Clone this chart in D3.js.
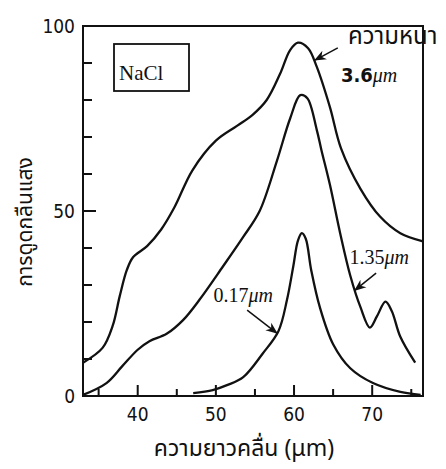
<!DOCTYPE html>
<html>
<head>
<meta charset="utf-8">
<script src="https://cdn.jsdelivr.net/npm/d3@7"></script>
<style>
  body { margin: 0; background: #fff; }
  text { fill: #111; }
</style>
</head>
<body>
<div id="chart-area"></div>
<script>
// data (wavelength in um, absorption %)
var wl36 = [33, 35.5, 36.8, 37.7, 38.6, 39.4, 41.2, 43, 44.7, 47, 50, 52.7, 54.7, 56.5, 58.2, 59.5, 60.5, 61.8, 62.9, 64.6, 66, 68.5, 71, 73.6, 76.5];
var ab36 = [9, 13, 19, 27, 34, 37.5, 40.5, 45, 51, 61, 69, 73, 76, 80, 87, 93.5, 95.5, 94, 89, 78, 67, 56, 48.5, 44, 41.8];

var wl135 = [33, 36, 38, 40, 41.5, 43.7, 45.8, 47.9, 50.9, 53.5, 55.6, 57.8, 59.5, 60.8, 61.7, 62.9, 63.5, 64.6, 65.9, 67.2, 68.5, 69.7, 70.6, 71.7, 72.5, 73.6, 75.5];
var ab135 = [0.3, 3.5, 8, 12.5, 14.8, 16.8, 20.5, 26, 35, 43, 50, 63.5, 75, 81.3, 80.5, 72, 66.5, 57, 44, 32.5, 24, 18.5, 21.5, 25.5, 23, 16, 9];

var wl017 = [47.1, 49.6, 51.5, 53.5, 56, 58, 59.1, 59.9, 60.5, 61, 61.5, 62.2, 63.3, 65, 67.2, 70.1, 73.6, 76.2];
var ab017 = [0.8, 1.6, 3, 5.1, 11.5, 17.5, 26, 35, 42, 44, 42.5, 34, 24, 14, 7.5, 3.5, 1.1, 0.3];

var xMajor = [40, 50, 60, 70];
var xMinor = [35, 45, 55, 65, 75];
var yMajor = [0, 50, 100];
var yMinor = [10, 20, 30, 40, 60, 70, 80, 90];

var width = 446, height = 469;
var margin = {top: 26, right: 23, bottom: 73, left: 83};
var w = width - margin.left - margin.right,
    h = height - margin.top - margin.bottom;

var svg = d3.select("#chart-area").append("svg")
  .attr("width", width)
  .attr("height", height);
var g = svg.append("g")
  .attr("transform", "translate(" + margin.left + "," + margin.top + ")");

var x = d3.scaleLinear().domain([33, 76.5]).range([0, w]);
var y = d3.scaleLinear().domain([0, 100]).range([h, 0]);

var numFont = "'Liberation Sans Narrow', 'DejaVu Sans Condensed', 'Liberation Sans', sans-serif";
var thaiFont = "'Noto Sans Thai', 'Noto Sans', 'DejaVu Sans', sans-serif";
var serif = "'Liberation Serif', 'DejaVu Serif', serif";

// frame
g.append("rect")
  .attr("x", 0).attr("y", 0)
  .attr("width", w).attr("height", h)
  .attr("fill", "none")
  .attr("stroke", "#111")
  .attr("stroke-width", 2);

// ticks (inward), one path
var tickD = "";
xMinor.forEach(function(d) { tickD += "M" + x(d) + "," + h + "v-7"; });
xMajor.forEach(function(d) { tickD += "M" + x(d) + "," + h + "v-11"; });
yMinor.forEach(function(d) { tickD += "M0," + y(d) + "h9"; });
yMajor.forEach(function(d) { tickD += "M0," + y(d) + "h13"; });
g.append("path")
  .attr("d", tickD)
  .attr("fill", "none")
  .attr("stroke", "#111")
  .attr("stroke-width", 2);

g.selectAll(".xlab").data(xMajor).enter().append("text")
  .attr("class", "xlab")
  .attr("x", function(d) { return x(d); })
  .attr("y", h + 25)
  .attr("text-anchor", "middle")
  .style("font-family", numFont).style("font-size", "19px")
  .text(function(d) { return d; });
g.selectAll(".ylab").data(yMajor).enter().append("text")
  .attr("class", "ylab")
  .attr("x", -8)
  .attr("y", function(d) { return y(d); })
  .attr("dy", "0.35em")
  .attr("text-anchor", "end")
  .style("font-family", numFont).style("font-size", "19px")
  .text(function(d) { return d; });

// curves
var line = d3.line()
  .x(function(d) { return x(d[0]); })
  .y(function(d) { return y(d[1]); })
  .curve(d3.curveCatmullRom.alpha(0.5));

[[wl36, ab36], [wl135, ab135], [wl017, ab017]].forEach(function(s) {
  g.append("path")
    .datum(d3.zip(s[0], s[1]))
    .attr("d", line)
    .attr("fill", "none")
    .attr("stroke", "#111")
    .attr("stroke-width", 2.3);
});

// NaCl box
g.append("rect")
  .attr("x", 114 - margin.left).attr("y", 44 - margin.top)
  .attr("width", 75).attr("height", 47)
  .attr("fill", "none").attr("stroke", "#111").attr("stroke-width", 1.8);
g.append("text")
  .attr("x", 119 - margin.left).attr("y", 80 - margin.top)
  .style("font-family", serif).style("font-size", "21px")
  .text("NaCl");

// arrows
svg.append("defs").append("marker")
  .attr("id", "head")
  .attr("viewBox", "0 0 10 10")
  .attr("refX", 9).attr("refY", 5)
  .attr("markerWidth", 8).attr("markerHeight", 8)
  .attr("orient", "auto")
  .append("path").attr("d", "M0,1 L10,5 L0,9 L3,5 Z").attr("fill", "#111");

var arrows = [
  [[65.6, 94.1], [62.7, 90.8]],
  [[70.5, 33.2], [67.8, 28.6]],
  [[54.0, 23.2], [57.8, 17.0]]
];
arrows.forEach(function(a) {
  g.append("line")
    .attr("x1", x(a[0][0])).attr("y1", y(a[0][1]))
    .attr("x2", x(a[1][0])).attr("y2", y(a[1][1]))
    .attr("stroke", "#111").attr("stroke-width", 1.5)
    .attr("marker-end", "url(#head)");
});

// labels
function umLabel(px, py, num, sans) {
  var t = g.append("text")
    .attr("x", x(px)).attr("y", y(py))
    .style("font-family", sans ? numFont : serif)
    .style("font-size", "20px");
  t.append("tspan").text(num).style("font-weight", sans ? "bold" : "normal");
  t.append("tspan").text("\u03bcm").style("font-family", serif).style("font-style", "italic");
}
umLabel(66.0, 84.9, "3.6", true);
umLabel(67.1, 35.6, "1.35", false);
umLabel(49.7, 25.5, "0.17", false);

g.append("text")
  .attr("x", x(66.9)).attr("y", y(95.2))
  .style("font-family", thaiFont).style("font-size", "24px")
  .text("ความหนา");

// axis titles
svg.append("text")
  .attr("x", 244).attr("y", 456)
  .attr("text-anchor", "middle")
  .style("font-family", thaiFont).style("font-size", "23px")
  .text("ความยาวคลื่น (μm)");

svg.append("text")
  .attr("transform", "translate(32,222) rotate(-90)")
  .attr("text-anchor", "middle")
  .style("font-family", thaiFont).style("font-size", "21px")
  .text("การดูดกลืนแสง");
</script>
</body>
</html>
